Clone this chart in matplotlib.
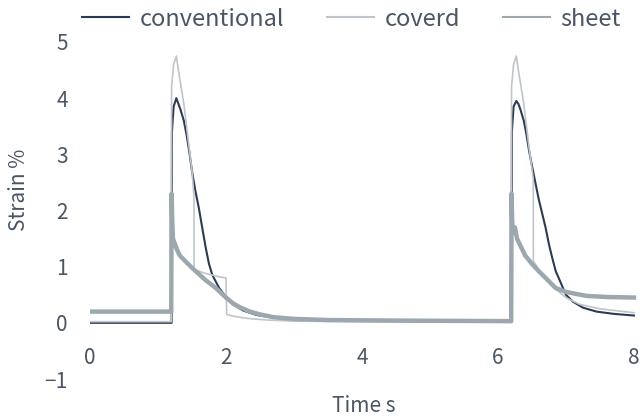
import matplotlib
matplotlib.use("Agg")
import matplotlib.pyplot as plt

# ---- data ----
conv_t = [0, 1.20, 1.205, 1.23, 1.27, 1.30, 1.33, 1.38, 1.42, 1.46, 1.50, 1.55, 1.60, 1.65, 1.70,
          1.75, 1.80, 1.90, 2.00, 2.10, 2.25, 2.45, 2.70, 3.00, 3.50, 4.50, 6.20,
          6.205, 6.23, 6.27, 6.30, 6.33, 6.38, 6.42, 6.46, 6.50, 6.55, 6.60, 6.65, 6.70,
          6.75, 6.80, 6.85, 6.90, 7.00, 7.10, 7.25, 7.45, 7.70, 8.00]
conv_v = [0.0, 0.0, 3.4, 3.85, 4.0, 3.9, 3.8, 3.6, 3.35, 3.05, 2.7, 2.35, 2.05, 1.7, 1.35,
          1.05, 0.85, 0.62, 0.46, 0.33, 0.22, 0.14, 0.09, 0.06, 0.04, 0.03, 0.02,
          3.4, 3.85, 3.95, 3.9, 3.8, 3.6, 3.35, 3.05, 2.8, 2.5, 2.2, 1.95, 1.7,
          1.4, 1.15, 0.92, 0.78, 0.5, 0.38, 0.27, 0.2, 0.16, 0.13]

cov_t = [0, 1.195, 1.20, 1.23, 1.27, 1.30, 1.34, 1.38, 1.42, 1.46, 1.50, 1.53, 1.531, 1.60,
         1.70, 1.80, 1.90, 2.00, 2.01, 2.10, 2.30, 2.60, 3.00, 4.00, 6.195,
         6.20, 6.23, 6.27, 6.30, 6.34, 6.38, 6.42, 6.46, 6.50, 6.52, 6.521, 6.60, 6.70,
         6.80, 6.90, 7.00, 7.20, 7.50, 8.00]
cov_v = [0.02, 0.02, 4.2, 4.6, 4.75, 4.5, 4.2, 3.9, 3.5, 3.1, 2.7, 2.25, 0.95, 0.92,
         0.88, 0.85, 0.82, 0.80, 0.15, 0.12, 0.08, 0.05, 0.03, 0.02, 0.02,
         4.2, 4.6, 4.75, 4.5, 4.2, 3.9, 3.5, 3.1, 2.75, 2.55, 1.1, 0.95, 0.8,
         0.65, 0.55, 0.45, 0.33, 0.25, 0.18]

sheet_t = [0, 1.195, 1.20, 1.21, 1.22, 1.25, 1.28, 1.32, 1.40, 1.50, 1.60, 1.70, 1.85, 2.00,
           2.10, 2.20, 2.35, 2.50, 2.70, 3.00, 3.50, 4.50, 6.195, 6.20, 6.21, 6.22,
           6.25, 6.28, 6.32, 6.40, 6.50, 6.60, 6.70, 6.85, 7.00, 7.30, 7.60, 8.00]
sheet_v = [0.2, 0.2, 2.3, 1.8, 1.5, 1.4, 1.3, 1.2, 1.1, 0.98, 0.87, 0.76, 0.62, 0.45,
           0.35, 0.28, 0.2, 0.15, 0.1, 0.07, 0.05, 0.04, 0.03, 2.3, 1.8, 1.6,
           1.7, 1.5, 1.4, 1.2, 1.05, 0.92, 0.8, 0.62, 0.55, 0.48, 0.46, 0.45]

series_names = ["conventional", "coverd", "sheet"]
x_ticks = [0, 2, 4, 6, 8]
y_ticks = [-1, 0, 1, 2, 3, 4, 5]

# ---- styling ----
TXT = "#4a5663"
plt.rcParams['font.family'] = ['Noto Sans CJK JP', 'DejaVu Sans']

fig = plt.figure(figsize=(6.42, 4.20), dpi=100)
ax = fig.add_axes([90 / 642, 1 - 379 / 420, 548 / 642, 337 / 420])

l1, = ax.plot(conv_t, conv_v, color="#2b3c52", lw=1.5, label=series_names[0], zorder=2)
l2, = ax.plot(cov_t, cov_v, color="#bfc6cb", lw=1.2, label=series_names[1], zorder=3)
l3, = ax.plot(sheet_t, sheet_v, color="#9ca7ae", lw=3.2, label=series_names[2], zorder=4)

ax.set_xlim(0, 8.06)
ax.set_ylim(-1, 5)
for s in ax.spines.values():
    s.set_visible(False)
ax.spines['bottom'].set_position(('data', -0.35))
ax.set_xticks(x_ticks)
ax.set_xticklabels([str(v) for v in x_ticks])
ax.set_yticks(y_ticks)
ax.set_yticklabels([("\u22121" if v < 0 else str(v)) for v in y_ticks])
ax.tick_params(axis='both', length=0, labelsize=15, colors=TXT)
ax.tick_params(axis='x', pad=3)
ax.tick_params(axis='y', pad=16)

ax.set_xlabel("Time s", fontsize=15, color=TXT)
ax.set_ylabel("Strain %", fontsize=15, color=TXT)
ax.xaxis.set_label_coords(0.5, -0.048)
ax.yaxis.set_label_coords(-0.11, 0.56)

leg = fig.legend(handles=[l1, l2, l3], loc='center left', bbox_to_anchor=(82 / 642, 1 - 19 / 420),
                 ncol=3, frameon=False, fontsize=17, handlelength=2.0, handletextpad=0.45,
                 columnspacing=1.8, borderaxespad=0, borderpad=0)
for t in leg.get_texts():
    t.set_color(TXT)
for h in leg.legend_handles:
    h.set_linewidth(1.5)

fig.savefig("out.png", dpi=100)
